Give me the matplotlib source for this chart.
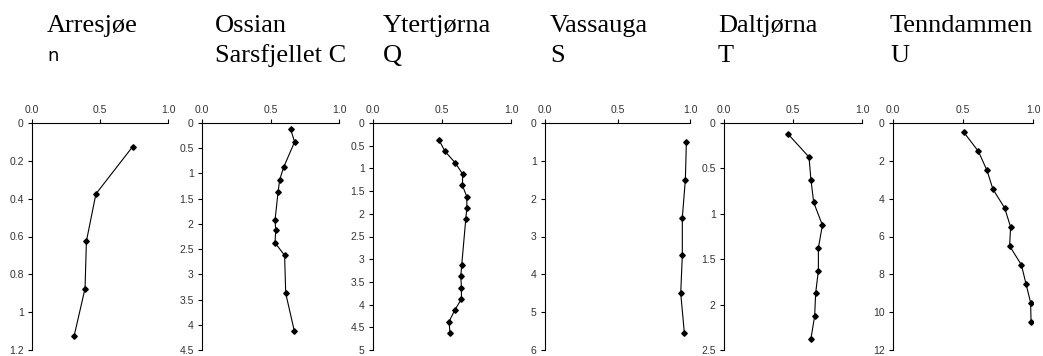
import numpy as np
import matplotlib
matplotlib.use("Agg")
import matplotlib.pyplot as plt
from matplotlib.ticker import FormatStrFormatter, FuncFormatter

# lake names (two lines each)
names = [("Arresjøe", "n"), ("Ossian", "Sarsfjellet C"), ("Ytertjørna", "Q"),
         ("Vassauga", "S"), ("Daltjørna", "T"), ("Tenndammen", "U")]

# depth (y) and value (x) per lake
arr_depth = [0.125, 0.375, 0.625, 0.875, 1.125]
arr_val = [0.74, 0.47, 0.40, 0.39, 0.31]

oss_depth = [0.125, 0.375, 0.875, 1.125, 1.375, 1.925, 2.125, 2.375, 2.625, 3.375, 4.125]
oss_val = [0.647, 0.676, 0.596, 0.567, 0.555, 0.533, 0.538, 0.533, 0.603, 0.611, 0.674]

yte_depth = [0.375, 0.625, 0.875, 1.125, 1.375, 1.625, 1.875, 2.125, 3.125, 3.375,
             3.625, 3.875, 4.125, 4.375, 4.625]
yte_val = [0.478, 0.522, 0.595, 0.650, 0.648, 0.680, 0.680, 0.672, 0.643, 0.636,
           0.641, 0.641, 0.592, 0.551, 0.558]

vas_depth = [0.5, 1.5, 2.5, 3.5, 4.5, 5.55]
vas_val = [0.975, 0.968, 0.947, 0.947, 0.936, 0.961]

dal_depth = [0.125, 0.375, 0.625, 0.875, 1.125, 1.375, 1.625, 1.875, 2.125, 2.375]
dal_val = [0.466, 0.616, 0.630, 0.650, 0.713, 0.684, 0.684, 0.664, 0.657, 0.630]

ten_depth = [0.5, 1.5, 2.5, 3.5, 4.5, 5.5, 6.5, 7.5, 8.5, 9.5, 10.5]
ten_val = [0.507, 0.610, 0.671, 0.714, 0.798, 0.840, 0.833, 0.917, 0.950, 0.983, 0.986]

depths = [arr_depth, oss_depth, yte_depth, vas_depth, dal_depth, ten_depth]
values = [arr_val, oss_val, yte_val, vas_val, dal_val, ten_val]
ymax = [1.2, 4.5, 5, 6, 2.5, 12]
ystep = [0.2, 0.5, 0.5, 1, 0.5, 2]

W, H = 1043, 356
# axes pixel boxes (left, right) and title x positions
ax_px = [(32, 168), (202, 339), (373, 511), (545, 690), (724, 862), (893, 1033)]
title_x = [47, 215, 383, 550, 718, 890]
ax_top, ax_bot = 123, 350

fig = plt.figure(figsize=(W / 100, H / 100), dpi=100)

for i in range(6):
    l, r = ax_px[i]
    ax = fig.add_axes([l / W, 1 - ax_bot / H, (r - l) / W, (ax_bot - ax_top) / H])
    ax.plot(values[i], depths[i], color="black", lw=0.8, marker="D", ms=2.8)
    ax.set_xlim(0, 1)
    ax.set_ylim(ymax[i], 0)
    ax.set_xticks([0, 0.5, 1.0])
    ax.set_yticks(np.arange(0, ymax[i] + 1e-9, ystep[i]))
    ax.xaxis.set_major_formatter(FormatStrFormatter("%.1f"))
    ax.yaxis.set_major_formatter(FuncFormatter(lambda v, p: f"{v:g}"))
    ax.xaxis.tick_top()
    for s in ["bottom", "right"]:
        ax.spines[s].set_visible(False)
    for s in ["top", "left"]:
        ax.spines[s].set_linewidth(0.8)
    ax.tick_params(direction="out", length=3, width=0.8, labelsize=7.5,
                   labelcolor="#333333", pad=3)
    for lab in ax.get_xticklabels() + ax.get_yticklabels():
        lab.set_fontfamily("Liberation Sans")

    line1, line2 = names[i]
    fig.text(title_x[i] / W, 1 - 26 / H, line1, fontsize=19,
             family="Liberation Serif", va="center", ha="left")
    if i == 0:
        fig.text(title_x[i] / W, 1 - 56 / H, line2, fontsize=13,
                 family="DejaVu Sans", va="center", ha="left")
    else:
        fig.text(title_x[i] / W, 1 - 56 / H, line2, fontsize=19,
                 family="Liberation Serif", va="center", ha="left")

fig.savefig("out.png", dpi=100)
